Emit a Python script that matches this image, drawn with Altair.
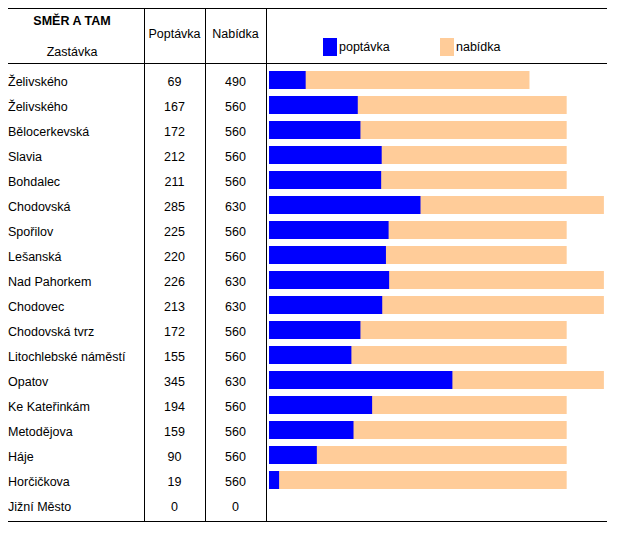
import altair as alt
import pandas as pd

stops = ["Želivského", "Želivského", "Bělocerkevská", "Slavia", "Bohdalec", "Chodovská",
         "Spořilov", "Lešanská", "Nad Pahorkem", "Chodovec", "Chodovská tvrz",
         "Litochlebské náměstí", "Opatov", "Ke Kateřinkám", "Metodějova", "Háje",
         "Horčičkova", "Jižní Město"]
poptavka = [69, 167, 172, 212, 211, 285, 225, 220, 226, 213, 172, 155, 345, 194, 159, 90, 19, 0]
nabidka = [490, 560, 560, 560, 560, 630, 560, 560, 630, 630, 560, 560, 630, 560, 560, 560, 560, 0]
series = ["poptávka", "nabídka"]
colors = ["#0000FF", "#FFCC99"]
header_title = "SMĚR A TAM"
header_cols = ["Zastávka", "Poptávka", "Nabídka"]

df = pd.DataFrame({"idx": list(range(len(stops))), "stop": stops,
                   "poptavka": poptavka, "nabidka": nabidka})
one = pd.DataFrame({"a": [0]})

FONT = "Liberation Sans"
FS = 12.5

xs = alt.Scale(domain=[0, 630], range=[261, 595.9])
ys = alt.Scale(range=[59.5, 509.5], paddingInner=0.28, paddingOuter=0.14)
Y = alt.Y("idx:O", scale=ys, axis=None, sort="ascending")

base = alt.Chart(df)

bar_n = base.mark_bar(color=colors[1]).encode(x=alt.X("nabidka:Q", scale=xs, axis=None), y=Y)
bar_p = base.mark_bar(color=colors[0]).encode(x=alt.X("poptavka:Q", scale=xs, axis=None), y=Y)

txt_kw = dict(font=FONT, fontSize=FS, color="black", baseline="middle", dy=1.5)
t_name = base.mark_text(align="left", **txt_kw).encode(x=alt.value(0), y=Y, text="stop:N")
t_pop = base.mark_text(align="center", **txt_kw).encode(x=alt.value(166.5), y=Y, text="poptavka:Q")
t_nab = base.mark_text(align="center", **txt_kw).encode(x=alt.value(227.5), y=Y, text="nabidka:Q")

def hline(y):
    return alt.Chart(one).mark_rule(color="black", strokeWidth=1).encode(
        x=alt.value(0), x2=alt.value(599), y=alt.value(y))

def vline(x):
    return alt.Chart(one).mark_rule(color="black", strokeWidth=1).encode(
        x=alt.value(x), y=alt.value(0.5), y2=alt.value(513.5))

def label(text, x, y, bold=False, align="center"):
    return alt.Chart(one).mark_text(font=FONT, fontSize=FS, color="black", baseline="middle",
                                    align=align, fontWeight="bold" if bold else "normal").encode(
        x=alt.value(x), y=alt.value(y), text=alt.value(text))

def swatch(x, color):
    return alt.Chart(one).mark_rect(color=color).encode(
        x=alt.value(x), x2=alt.value(x + 14), y=alt.value(30), y2=alt.value(48))

layers = [bar_n, bar_p, t_name, t_pop, t_nab,
          hline(0.5), hline(55.5), hline(513.5),
          vline(136.5), vline(197.5), vline(258.5),
          label(header_title, 64, 13, bold=True),
          label(header_cols[0], 64, 44),
          label(header_cols[1], 166.5, 26),
          label(header_cols[2], 227.5, 26),
          swatch(315, colors[0]), label(series[0], 331, 39, align="left"),
          swatch(432, colors[1]), label(series[1], 448, 39, align="left")]

chart = alt.layer(*layers).properties(
    width=608, height=522, padding=0, autosize=alt.AutoSizeParams(type="none")
).configure_view(stroke=None)

chart.save("out.html", embed_options={"renderer": "svg", "actions": False})
